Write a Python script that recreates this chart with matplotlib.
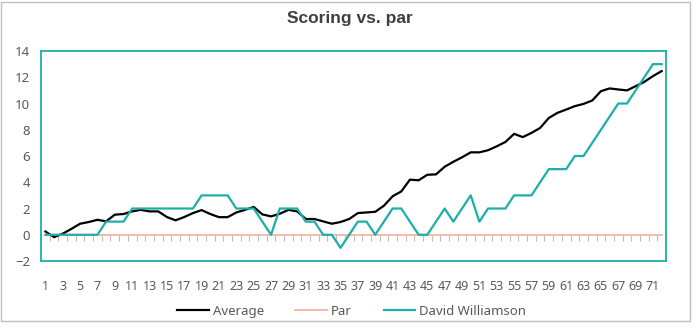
import matplotlib.pyplot as plt
from matplotlib.patches import Rectangle

# Données
holes = list(range(1, 73))
average = [0.25, -0.18, 0.08, 0.45, 0.84, 0.97, 1.14, 1.02, 1.53, 1.58,
           1.78, 1.9, 1.78, 1.78, 1.35, 1.1, 1.35, 1.65, 1.88, 1.58,
           1.34, 1.34, 1.7, 1.9, 2.12, 1.55, 1.4, 1.6, 1.9, 1.78,
           1.2, 1.2, 1.02, 0.84, 0.97, 1.2, 1.65, 1.7, 1.75, 2.21,
           2.93, 3.3, 4.2, 4.15, 4.57, 4.6, 5.18, 5.56, 5.9, 6.28,
           6.28, 6.44, 6.74, 7.07, 7.69, 7.44, 7.76, 8.14, 8.9, 9.29,
           9.54, 9.8, 9.97, 10.23, 10.94, 11.15, 11.07, 11.0, 11.32, 11.65,
           12.09, 12.47]
par = [0] * 72
david = [0, 0, 0, 0, 0, 0, 0, 1, 1, 1,
         2, 2, 2, 2, 2, 2, 2, 2, 3, 3,
         3, 3, 2, 2, 2, 1, 0, 2, 2, 2,
         1, 1, 0, 0, -1, 0, 1, 1, 0, 1,
         2, 2, 1, 0, 0, 1, 2, 1, 2, 3,
         1, 2, 2, 2, 3, 3, 3, 4, 5, 5,
         5, 6, 6, 7, 8, 9, 10, 10, 11, 12,
         13, 13]
x_labels = [str(h) if h % 2 == 1 else "" for h in holes]
y_ticks = list(range(-2, 15, 2))

teal = "#1BAFA8"
grey_text = "#595959"

plt.rcParams['font.family'] = ['Noto Sans', 'DejaVu Sans']

fig = plt.figure(figsize=(6.99, 3.33), dpi=100)
# Cadre extérieur du graphique
fig.patches.append(Rectangle((0.002, 0.035), 0.985, 0.96, transform=fig.transFigure,
                             fill=False, edgecolor="#BFBFBF", linewidth=1.0))

ax = fig.add_axes([0.0587, 0.2162, 0.8941, 0.6306])

ax.plot(holes, average, color="black", linewidth=1.6, label="Average", zorder=4)
ax.plot(holes, par, color="#F4B4A2", linewidth=1.3, label="Par", zorder=3)
ax.plot(holes, david, color=teal, linewidth=1.6, label="David Williamson", zorder=5)

ax.set_xlim(0.5, 72.5)
ax.set_ylim(-2, 14)
ax.set_yticks(y_ticks)
ax.set_xticks(holes)
ax.set_xticklabels(x_labels)
ax.tick_params(axis='x', length=0, pad=14, labelsize=9, colors=grey_text)
ax.tick_params(axis='y', length=0, pad=8, labelsize=9.5, colors=grey_text)

for spine in ax.spines.values():
    spine.set_color(teal)
    spine.set_linewidth(1.3)

# Axe horizontal qui croise en 0, avec les petites graduations
sec = ax.secondary_xaxis(2 / 16)
sec.set_xticks([h + 0.5 for h in range(0, 73)])
sec.tick_params(axis='x', direction='out', length=4, width=0.8, color="#BFBFBF",
                labelbottom=False)
sec.spines['bottom'].set_visible(False)

fig.text(0.5, 0.945, "Scoring vs. par", ha="center", va="center",
         fontsize=12.5, fontweight="bold", color="#404040",
         family=['Liberation Sans', 'DejaVu Sans'])

fig.legend(loc="center", bbox_to_anchor=(0.503, 0.066), ncol=3, frameon=False,
           fontsize=9.5, handlelength=2.4, handletextpad=0.3, columnspacing=2.4,
           labelcolor=grey_text)

fig.savefig("out.png", dpi=100)
